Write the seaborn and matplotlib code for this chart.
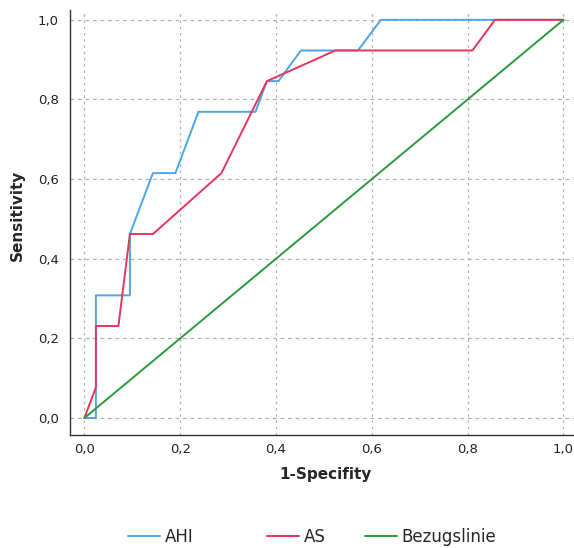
import numpy as np
import pandas as pd
import seaborn as sns
import matplotlib.pyplot as plt

# ROC curve points
ahi_fpr = [0.0, 0.024, 0.024, 0.095, 0.095, 0.143, 0.190, 0.238, 0.357, 0.381, 0.405, 0.452, 0.571, 0.619, 1.0]
ahi_tpr = [0.0, 0.0, 0.308, 0.308, 0.462, 0.615, 0.615, 0.769, 0.769, 0.846, 0.846, 0.923, 0.923, 1.0, 1.0]
as_fpr = [0.0, 0.024, 0.024, 0.071, 0.095, 0.143, 0.286, 0.381, 0.524, 0.810, 0.857, 1.0]
as_tpr = [0.0, 0.077, 0.231, 0.231, 0.462, 0.462, 0.615, 0.846, 0.923, 0.923, 1.0, 1.0]
ref_fpr = [0.0, 1.0]
ref_tpr = [0.0, 1.0]
ticks = [0.0, 0.2, 0.4, 0.6, 0.8, 1.0]
tick_labels = ['0,0', '0,2', '0,4', '0,6', '0,8', '1,0']

sns.set_style('white')
plt.rcParams['font.family'] = ['DejaVu Sans']

fig = plt.figure(figsize=(5.74, 5.48), dpi=100)
ax = fig.add_axes([0.122, 0.206, 0.878, 0.776])

sns.lineplot(x=ahi_fpr, y=ahi_tpr, sort=False, estimator=None, color='#4ba6e6', linewidth=1.4, label='AHI', ax=ax)
sns.lineplot(x=as_fpr, y=as_tpr, sort=False, estimator=None, color='#e8345a', linewidth=1.4, label='AS', ax=ax)
sns.lineplot(x=ref_fpr, y=ref_tpr, sort=False, estimator=None, color='#2a9a3c', linewidth=1.4, label='Bezugslinie', ax=ax)

ax.set_xlim(-0.03, 1.022)
ax.set_ylim(-0.043, 1.025)
ax.set_xticks(ticks)
ax.set_xticklabels(tick_labels)
ax.set_yticks(ticks)
ax.set_yticklabels(tick_labels)
ax.tick_params(labelsize=9.5, length=0, colors='#222222')
ax.tick_params(axis='x', pad=6)
ax.tick_params(axis='y', pad=8)
ax.grid(True, axis='y', color='#b0b0b0', linestyle=(0, (3, 3)), linewidth=0.9)
ax.grid(True, axis='x', color='#b0b0b0', linestyle=(0, (2, 3)), linewidth=0.9)
ax.set_axisbelow(True)
for s in ['top', 'right']:
    ax.spines[s].set_visible(False)
for s in ['left', 'bottom']:
    ax.spines[s].set_color('#333333')
    ax.spines[s].set_linewidth(1.0)

ax.set_xlabel('1-Specifity', fontsize=11, fontweight='bold')
ax.set_ylabel('Sensitivity', fontsize=11, fontweight='bold')
ax.xaxis.set_label_coords(0.506, -0.075)
ax.yaxis.set_label_coords(-0.089, 0.518)

# legend entries sit at uneven spots below the chart, one legend each
handles, labels = ax.get_legend_handles_labels()
ax.get_legend().remove()
leg_x = [128, 267, 365]
for h, l, px in zip(handles, labels, leg_x):
    fig.legend([h], [l], loc='center left', bbox_to_anchor=(px / 574, 1 - 537 / 548),
               frameon=False, fontsize=12, handlelength=1.9, handletextpad=0.3,
               borderaxespad=0, borderpad=0)

fig.savefig('out.png', dpi=100)
